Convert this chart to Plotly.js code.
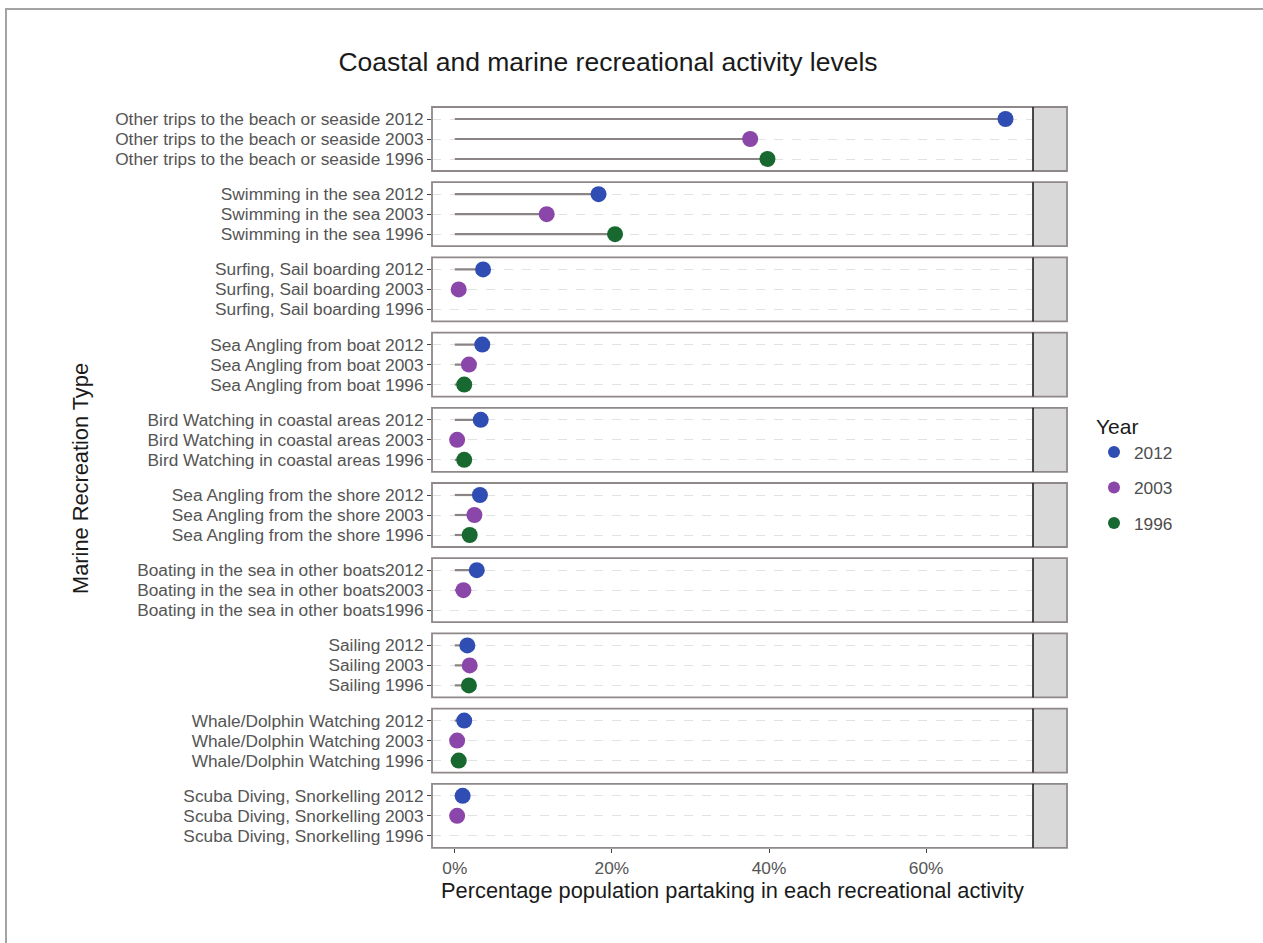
<!DOCTYPE html>
<html>
<head>
<meta charset="utf-8">
<script src="https://cdn.plot.ly/plotly-3.0.1.min.js"></script>
<style>
  html, body { margin: 0; padding: 0; background: #ffffff; }
  #wrap { position: relative; width: 1263px; height: 943px; overflow: hidden; }
  #chart { position: absolute; left: 0; top: 0; width: 1263px; height: 943px; }
  #frame { position: absolute; left: 5px; top: 8px; width: 1300px; height: 1000px;
           border-top: 2px solid #a3a3a3; border-left: 2px solid #a3a3a3; pointer-events: none; }
</style>
</head>
<body>
<div id="wrap">
  <div id="chart"></div>
  <div id="frame"></div>
</div>
<script>
// ---- Data ----
const activities = [
  "Other trips to the beach or seaside",
  "Swimming in the sea",
  "Surfing, Sail boarding",
  "Sea Angling from boat",
  "Bird Watching in coastal areas",
  "Sea Angling from the shore",
  "Boating in the sea in other boats",
  "Sailing",
  "Whale/Dolphin Watching",
  "Scuba Diving, Snorkelling"
];
// separator between activity name and year as printed in tick labels
const labelSeparators = [" ", " ", " ", " ", " ", " ", "", " ", " ", " "];
const years = ["2012", "2003", "1996"];
const values2012 = [70.1, 18.3, 3.6, 3.5, 3.3, 3.2, 2.8, 1.6, 1.2, 1.0];
const values2003 = [37.6, 11.7, 0.5, 1.8, 0.3, 2.5, 1.1, 1.9, 0.3, 0.3];
const values1996 = [39.8, 20.4, null, 1.2, 1.2, 1.9, null, 1.8, 0.5, null];
const xTickValues = [0, 20, 40, 60];
const xTickLabels = ["0%", "20%", "40%", "60%"];

// ---- Styling ----
const yearColors = {"2012": "#2f4db3", "2003": "#8b46a9", "1996": "#17692f"};
const yearRow = {"2012": 2, "2003": 1, "1996": 0};
const seriesByYear = {"2012": values2012, "2003": values2003, "1996": values1996};

const W = 1263, H = 943;
const plotLeft = 432, plotRight = 1067, plotTop = 107, plotBottom = 848;
const stripLeft = 1033;
const plotW = plotRight - plotLeft, plotH = plotBottom - plotTop;
const xDomainEnd = (stripLeft - plotLeft) / plotW;
const panelH = 64, panelStep = 75.2;
const fontFam = "Liberation Sans, Arial, Helvetica, sans-serif";
const tickSize = 17.3;

const nP = activities.length;
const traces = [];
const layout = {
  width: W, height: H,
  margin: {l: plotLeft, r: W - plotRight, t: plotTop, b: H - plotBottom, pad: 0},
  paper_bgcolor: "rgba(255,255,255,1)",
  plot_bgcolor: "#ffffff",
  font: {family: fontFam, color: "#4d4d4d"},
  showlegend: true,
  title: {
    text: "Coastal and marine recreational activity levels",
    font: {size: 26.5, color: "#1a1a1a", family: fontFam},
    xref: "container", x: 608 / W, xanchor: "center",
    yref: "container", y: 1 - 62 / H, yanchor: "middle"
  },
  xaxis: {
    domain: [0, xDomainEnd],
    anchor: "y" + nP,
    range: [-2.9, 73.6],
    tickvals: xTickValues, ticktext: xTickLabels,
    ticks: "outside", ticklen: 4, tickcolor: "#444", tickwidth: 1,
    tickfont: {size: tickSize, color: "#555555", family: fontFam},
    showgrid: false, zeroline: false, showline: false,
    title: {text: "Percentage population partaking in each recreational activity",
            font: {size: 21.8, color: "#1a1a1a", family: fontFam}, standoff: 3},
    fixedrange: true
  },
  legend: {
    x: (1094 - plotLeft) / plotW, xanchor: "left",
    y: (plotBottom - 407) / plotH, yanchor: "top",
    title: {text: "Year", font: {size: 21, color: "#1a1a1a", family: fontFam}},
    font: {size: tickSize, color: "#4d4d4d", family: fontFam},
    tracegroupgap: 10,
    itemsizing: "constant",
    bgcolor: "rgba(0,0,0,0)"
  },
  shapes: [],
  annotations: [{
    text: "Marine Recreation Type", textangle: -90,
    xref: "paper", x: (80 - plotLeft) / plotW, xanchor: "center",
    yref: "paper", y: (plotBottom - 479) / plotH, yanchor: "middle",
    showarrow: false, font: {size: 21.8, color: "#1a1a1a", family: fontFam}
  }]
};

for (let i = 0; i < nP; i++) {
  const yId = i === 0 ? "y" : "y" + (i + 1);
  const axName = i === 0 ? "yaxis" : "yaxis" + (i + 1);
  const topPx = plotTop + panelStep * i;
  const lo = (plotBottom - (topPx + panelH)) / plotH;
  const hi = (plotBottom - topPx) / plotH;
  const p = activities[i] + labelSeparators[i];
  layout[axName] = {
    domain: [Math.max(0, lo), Math.min(1, hi)],
    anchor: "x",
    range: [-0.6, 2.6],
    tickvals: [yearRow["1996"], yearRow["2003"], yearRow["2012"]],
    ticktext: [p + "1996", p + "2003", p + "2012"],
    ticks: "outside", ticklen: 4, tickcolor: "#444", tickwidth: 1,
    tickfont: {size: tickSize, color: "#555555", family: fontFam},
    showgrid: true, gridcolor: "#e2e2e2", griddash: "dash", gridwidth: 1,
    zeroline: false, showline: false, fixedrange: true
  };
  // lollipop stems
  const sx = [], sy = [];
  years.forEach(yr => {
    const v = seriesByYear[yr][i];
    if (v !== null) { sx.push(0, v, null); sy.push(yearRow[yr], yearRow[yr], null); }
  });
  traces.push({
    type: "scatter", mode: "lines", x: sx, y: sy, xaxis: "x", yaxis: yId,
    line: {color: "#8a8484", width: 2.2}, hoverinfo: "skip", showlegend: false
  });
  const dref = yId + " domain";
  // strip
  layout.shapes.push({type: "rect", xref: "paper", x0: xDomainEnd, x1: 1, yref: dref, y0: 0, y1: 1,
    fillcolor: "#d9d9d9", line: {width: 0}, layer: "below"});
  // panel border (encloses strip too)
  layout.shapes.push({type: "rect", xref: "paper", x0: 0, x1: 1, yref: dref, y0: 0, y1: 1,
    fillcolor: "rgba(0,0,0,0)", line: {color: "#8f8888", width: 1.8}, layer: "above"});
  // dark separator at strip edge
  layout.shapes.push({type: "line", xref: "paper", x0: xDomainEnd, x1: xDomainEnd, yref: dref, y0: 0, y1: 1,
    line: {color: "#1f1f1f", width: 1.6}, layer: "above"});
}

// points
years.forEach(yr => {
  for (let i = 0; i < nP; i++) {
    const yId = i === 0 ? "y" : "y" + (i + 1);
    const v = seriesByYear[yr][i];
    traces.push({
      type: "scatter", mode: "markers",
      x: v === null ? [] : [v], y: v === null ? [] : [yearRow[yr]],
      xaxis: "x", yaxis: yId,
      name: yr, legendgroup: yr, showlegend: i === 0,
      marker: {color: yearColors[yr], size: 16, line: {width: 0}},
      hovertemplate: activities[i] + " " + yr + ": %{x}%<extra></extra>"
    });
  }
});

Plotly.newPlot("chart", traces, layout, {staticPlot: true, displayModeBar: false});
</script>
</body>
</html>
